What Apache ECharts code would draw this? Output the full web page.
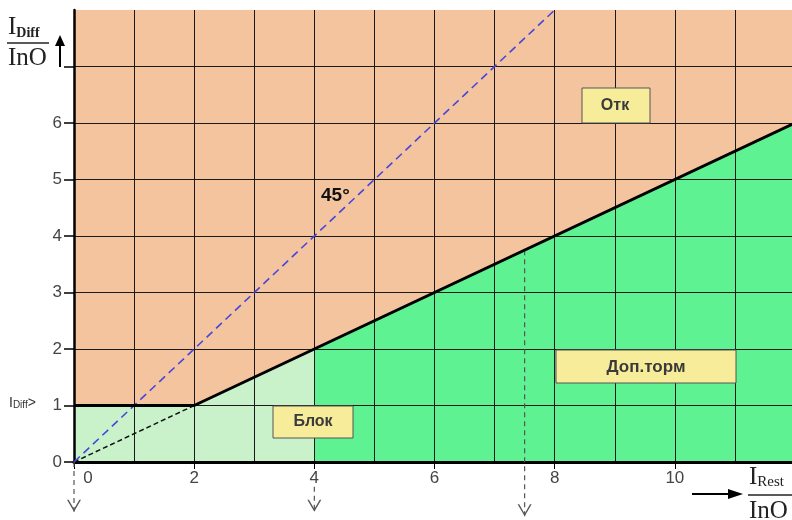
<!DOCTYPE html>
<html>
<head>
<meta charset="utf-8">
<script src="https://cdn.jsdelivr.net/npm/echarts@6/dist/echarts.min.js"></script>
<style>html,body{margin:0;padding:0;background:#fff}#c{width:792px;height:520px}</style>
</head>
<body>
<div id="c"></div>
<script>
// ---- data ----
const xTickLabels = [0, 2, 4, 6, 8, 10];
const yTickLabels = [0, 1, 2, 3, 4, 5, 6];
const yTickMarks = [0, 1, 2, 3, 4, 5, 6, 7];
const pickupLine = [[0, 1], [2, 1], [12, 6]];
const blockZone = [[0, 1], [2, 1], [4, 2]];
const restraintZone = [[4, 2], [12, 6]];
const line45 = [[0, 0], [8, 8]];
const originSlope = [[0, 0], [2, 1]];
const arrowX = [0, 4, 7.5];
const arrowStartY = [0, -0.44, 3.75];
const arrowTipY = [-0.88, -0.88, -0.96];

const chart = echarts.init(document.getElementById('c'));

const arrowHead = 'path://M0,0 L7,12 L14,0 L12.4,0 L7,9.4 L1.6,0 Z';
const arrowSeries = arrowX.map((x, i) => ({
  type: 'line', clip: false, z: 9, silent: true,
  data: [
    { value: [x, arrowStartY[i]], symbol: 'none' },
    { value: [x, arrowTipY[i]], symbol: arrowHead, symbolSize: [14, 12], symbolOffset: [0, -6], itemStyle: { color: '#555', opacity: 1 } }
  ],
  showSymbol: true,
  lineStyle: { color: '#555', width: 1.2, type: [5, 4] }
}));

const option = {
  animation: false,
  grid: { left: 74, top: 10, right: -3, bottom: 58, show: true, backgroundColor: '#F3C49E', borderWidth: 0, outerBoundsMode: 'none', containLabel: false },
  xAxis: {
    type: 'value', min: 0, max: 12, interval: 2, z: 3,
    axisLine: { show: true, lineStyle: { color: '#000', width: 3 } },
    axisTick: { show: true, length: 7, lineStyle: { color: '#000', width: 1 } },
    minorTick: { show: false, splitNumber: 2 },
    splitLine: { show: true, lineStyle: { color: '#1a1a1a', width: 1 } },
    minorSplitLine: { show: true, lineStyle: { color: '#1a1a1a', width: 1 } },
    axisLabel: {
      fontSize: 17, color: '#444', fontFamily: 'Liberation Sans, Arial, sans-serif', margin: 8,
      formatter: v => xTickLabels.includes(v) ? (v === 0 ? '{z|0}' : String(v)) : '',
      rich: { z: { fontSize: 17, color: '#444', padding: [0, 0, 0, 28], fontFamily: 'Liberation Sans, Arial, sans-serif' } }
    }
  },
  yAxis: {
    type: 'value', min: 0, max: 8, interval: 1, z: 3,
    axisLine: { show: true, lineStyle: { color: '#000', width: 2.5 } },
    axisTick: { show: true, length: 10, customValues: yTickMarks, lineStyle: { color: '#000', width: 1.5 } },
    splitLine: { show: true, lineStyle: { color: '#1a1a1a', width: 1 } },
    axisLabel: {
      fontSize: 17, color: '#444', fontFamily: 'Liberation Sans, Arial, sans-serif', margin: 12,
      customValues: yTickLabels,
      formatter: v => String(v)
    }
  },
  series: [
    {
      type: 'line', symbol: 'none', z: 1, silent: true, data: blockZone,
      lineStyle: { width: 0 }, areaStyle: { color: '#C9F2CB', opacity: 1 }
    },
    {
      type: 'line', symbol: 'none', z: 1, silent: true, data: restraintZone,
      lineStyle: { width: 0 }, areaStyle: { color: '#5EF292', opacity: 1 }
    },
    {
      type: 'line', symbol: 'none', z: 8, silent: true, data: originSlope,
      lineStyle: { color: '#111', width: 1.5, type: [5, 3] }
    },
    {
      type: 'line', symbol: 'none', z: 8, silent: true, data: line45,
      lineStyle: { color: '#4646DC', width: 1.6, type: [8, 5] }
    },
    {
      type: 'line', symbol: 'none', z: 10, silent: true, data: pickupLine,
      lineStyle: { color: '#000', width: 3 }
    },
    ...arrowSeries
  ],
  graphic: [
    // Y axis title
    { type: 'text', left: 8, top: 15, z: 20, style: {
      text: '{a|I}{b|Diff}', rich: {
        a: { fontFamily: 'Liberation Serif, Times New Roman, serif', fontSize: 25, fill: '#222' },
        b: { fontFamily: 'Liberation Serif, Times New Roman, serif', fontSize: 14, fontWeight: 'bold', fill: '#222', padding: [12, 0, 0, 0] }
      } } },
    { type: 'line', z: 20, shape: { x1: 7, y1: 43, x2: 49, y2: 43 }, style: { stroke: '#222', lineWidth: 1.5 } },
    { type: 'text', left: 8, top: 46, z: 20, style: { text: 'InO', fontFamily: 'Liberation Serif, Times New Roman, serif', fontSize: 25, fill: '#222' } },
    { type: 'line', z: 20, shape: { x1: 60, y1: 67, x2: 60, y2: 44 }, style: { stroke: '#000', lineWidth: 2 } },
    { type: 'polygon', z: 20, shape: { points: [[55, 46], [65, 46], [60, 35]] }, style: { fill: '#000' } },
    // X axis title
    { type: 'line', z: 20, shape: { x1: 692, y1: 494, x2: 732, y2: 494 }, style: { stroke: '#000', lineWidth: 1.8 } },
    { type: 'polygon', z: 20, shape: { points: [[728, 489], [728, 499], [743, 494]] }, style: { fill: '#000' } },
    { type: 'text', left: 749, top: 465, z: 20, style: {
      text: '{a|I}{b|Rest}', rich: {
        a: { fontFamily: 'Liberation Serif, Times New Roman, serif', fontSize: 25, fill: '#222' },
        b: { fontFamily: 'Liberation Serif, Times New Roman, serif', fontSize: 15, fill: '#222', padding: [10, 0, 0, 0] }
      } } },
    { type: 'line', z: 20, shape: { x1: 748, y1: 495, x2: 792, y2: 495 }, style: { stroke: '#222', lineWidth: 1.5 } },
    { type: 'text', left: 749, top: 499, z: 20, style: { text: 'InO', fontFamily: 'Liberation Serif, Times New Roman, serif', fontSize: 25, fill: '#222' } },
    // I_Diff> label
    { type: 'text', left: 9, top: 396, z: 20, style: {
      text: '{a|I}{b|Diff}{a|>}', rich: {
        a: { fontFamily: 'Liberation Sans, Arial, sans-serif', fontSize: 14, fill: '#333' },
        b: { fontFamily: 'Liberation Sans, Arial, sans-serif', fontSize: 10, fill: '#333', padding: [5, 0, 0, 0] }
      } } },
    // 45° label
    { type: 'text', left: 321, top: 186, z: 20, style: { text: '45°', fontFamily: 'Liberation Sans, Arial, sans-serif', fontSize: 19, fontWeight: 'bold', fill: '#111' } },
    // boxes
    { type: 'rect', z: 20, shape: { x: 582, y: 88, width: 68, height: 35 }, style: { fill: '#F6EC9A', stroke: '#555', lineWidth: 1 } },
    { type: 'text', z: 21, x: 615, y: 106, style: { text: 'Отк', align: 'center', verticalAlign: 'middle', fontFamily: 'Liberation Sans, Arial, sans-serif', fontSize: 16, fontWeight: 'bold', fill: '#3a3a3a' } },
    { type: 'rect', z: 20, shape: { x: 273, y: 406, width: 80, height: 32 }, style: { fill: '#F6EC9A', stroke: '#555', lineWidth: 1 } },
    { type: 'text', z: 21, x: 313, y: 422, style: { text: 'Блок', align: 'center', verticalAlign: 'middle', fontFamily: 'Liberation Sans, Arial, sans-serif', fontSize: 16, fontWeight: 'bold', fill: '#3a3a3a' } },
    { type: 'rect', z: 20, shape: { x: 556, y: 350, width: 180, height: 33 }, style: { fill: '#F6EC9A', stroke: '#555', lineWidth: 1 } },
    { type: 'text', z: 21, x: 646, y: 367, style: { text: 'Доп.торм', align: 'center', verticalAlign: 'middle', fontFamily: 'Liberation Sans, Arial, sans-serif', fontSize: 17, fontWeight: 'bold', fill: '#3a3a3a' } }
  ]
};
chart.setOption(option);
</script>
</body>
</html>
